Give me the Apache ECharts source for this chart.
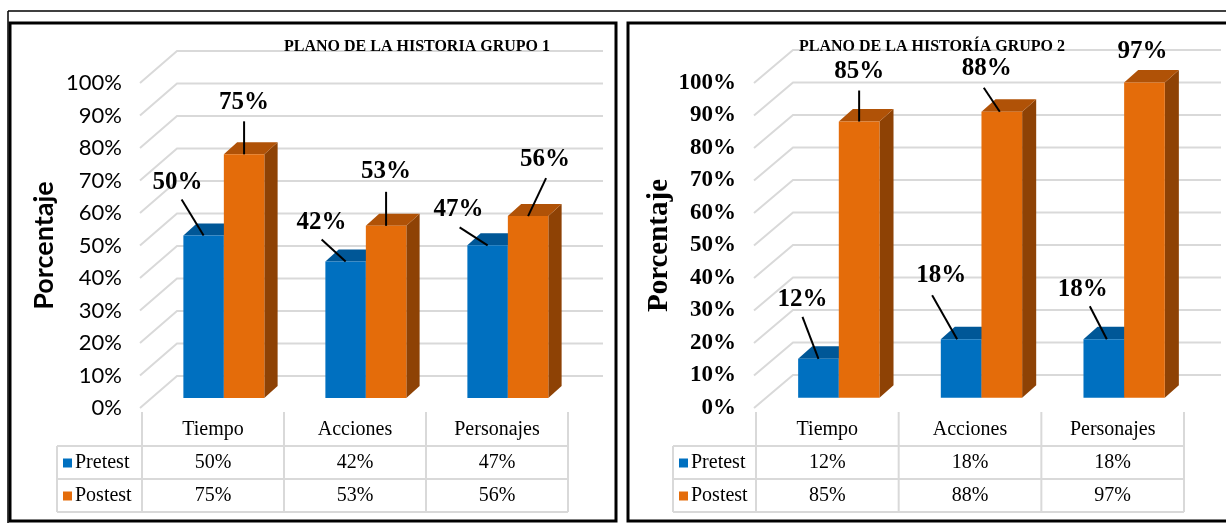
<!DOCTYPE html>
<html>
<head>
<meta charset="utf-8">
<script src="https://cdn.jsdelivr.net/npm/echarts@6/dist/echarts.min.js"></script>
<style>
  html, body { margin: 0; padding: 0; background: #fff; }
  #chart { width: 1226px; height: 523px; }
</style>
</head>
<body>
<div id="chart"></div>
<script>
const CATEGORIES = ['Tiempo', 'Acciones', 'Personajes'];
const SERIES_NAMES = ['Pretest', 'Postest'];
const G1_PRETEST = [50, 42, 47];
const G1_POSTEST = [75, 53, 56];
const G2_PRETEST = [12, 18, 18];
const G2_POSTEST = [85, 88, 97];
const Y_TICKS = [0, 10, 20, 30, 40, 50, 60, 70, 80, 90, 100];
const TITLES = ['PLANO DE LA HISTORIA GRUPO 1', 'PLANO DE LA HISTORÍA GRUPO 2'];

const COLORS = [
    {front: '#0070C0', top: '#005797', side: '#004A80'},   // Pretest
    {front: '#E46C0A', top: '#B05207', side: '#8E4205'}    // Postest
];
const GRID_LINE = '#D9D9D9';
const SERIF = '"Liberation Serif", "Times New Roman", serif';

const FRONT = 0.31;     // front face of bars, share of depth
const THICK = 0.38;     // bar depth, share of depth
const BAR_FRAC = 0.285; // bar width, share of category band

// layout of both panels (left, right)
const PANELS = [
    {
        left: 142, width: 426, depth: [35, -32],
        axisFont: 'Lato', axisWeight: 'normal', axisSize: 22,
        nameFont: 'Lato', nameSize: 27, nameGap: 84,
        titleX: 412, legendX: 57, box: [10, 23, 606, 498],
        // [label dx, label dy, line start dx, line start dy, line end dx] relative to bar top centre
        labels: [
            [[-26, -53, -22, -36, 0], [-24, -39, -24, -22, 0], [-29, -36, -28, -18, 0]],
            [[0, -52, 0, -33, 0], [0, -54, 0, -34, 0], [17, -57, 18, -38, 0]]
        ]
    },
    {
        left: 756, width: 428, depth: [37, -33],
        axisFont: SERIF, axisWeight: 'bold', axisSize: 23,
        nameFont: SERIF, nameSize: 29, nameGap: 82,
        titleX: 927, legendX: 673, box: [628, 23, 610, 498],
        labels: [
            [[-16, -59, -16, -42, 0], [-20, -64, -29, -44, -4], [-21, -50, -14, -33, 3]],
            [[0, -50, 0, -31, 0], [-15, -43, -18, -24, -2], [-2, -31, null, null, 0]]
        ]
    }
];
const GROUPS = [[G1_PRETEST, G1_POSTEST], [G2_PRETEST, G2_POSTEST]];

const GRID_TOP = 83;
const GRID_HEIGHT = 325;
const ROW_Y = [446, 479, 512];

function wallRender(panel) {
    return function (params, api) {
        const y = api.coord([0, api.value(1)])[1];
        const cs = params.coordSys;
        const [dx, dy] = panel.depth;
        return {
            type: 'polyline',
            shape: {points: [[cs.x - 2, y], [cs.x + dx, y + dy], [cs.x + cs.width + dx, y + dy]]},
            style: {stroke: GRID_LINE, lineWidth: 2, fill: null},
            silent: true
        };
    };
}

function barRender(panel, side) {
    const c = COLORS[side];
    return function (params, api) {
        const cat = api.value(0);
        const val = api.value(1);
        const base = api.coord([cat, 0]);
        const top = api.coord([cat, val]);
        const w = api.size([1, 0])[0] * BAR_FRAC;
        const [dx, dy] = panel.depth;
        const tx = dx * THICK, ty = dy * THICK;
        const x0 = base[0] + dx * FRONT + (side === 0 ? -w : 0);
        const x1 = x0 + w;
        const yb = base[1] + dy * FRONT;
        const yt = top[1] + dy * FRONT;
        const cx = (x0 + x1) / 2;
        const lab = panel.labels[side][cat];
        const children = [
            {type: 'polygon', shape: {points: [[x1, yt], [x1 + tx, yt + ty], [x1 + tx, yb + ty], [x1, yb]]},
                style: {fill: c.side}},
            {type: 'polygon', shape: {points: [[x0, yt], [x1, yt], [x1 + tx, yt + ty], [x0 + tx, yt + ty]]},
                style: {fill: c.top}},
            {type: 'rect', shape: {x: x0, y: yt, width: w, height: yb - yt}, style: {fill: c.front}},
            {type: 'text', x: cx + lab[0], y: yt + lab[1],
                style: {text: val + '%', fill: '#000', font: 'bold 25px ' + SERIF, align: 'center', verticalAlign: 'middle'}}
        ];
        if (lab[2] !== null) {
            children.push({type: 'line', shape: {x1: cx + lab[2], y1: yt + lab[3], x2: cx + lab[4], y2: yt},
                style: {stroke: '#000', lineWidth: 2}});
        }
        return {type: 'group', children: children};
    };
}

function tableGraphics(panel, values) {
    const band = panel.width / CATEGORIES.length;
    const right = panel.left + panel.width;
    const els = [];
    const line = (x1, y1, x2, y2) => els.push({type: 'line', shape: {x1, y1, x2, y2},
        style: {stroke: GRID_LINE, lineWidth: 2}, z: 1});
    for (let i = 0; i <= CATEGORIES.length; i++) {
        line(panel.left + i * band, 412, panel.left + i * band, ROW_Y[2]);
    }
    ROW_Y.forEach(y => line(panel.legendX, y, right, y));
    line(panel.legendX, ROW_Y[0], panel.legendX, ROW_Y[2]);
    SERIES_NAMES.forEach((name, s) => {
        const yc = (ROW_Y[s] + ROW_Y[s + 1]) / 2;
        els.push({type: 'rect', shape: {x: panel.legendX + 6, y: yc - 4, width: 9, height: 9},
            style: {fill: COLORS[s].front}, z: 2});
        els.push({type: 'text', x: panel.legendX + 18, y: yc,
            style: {text: name, font: '20px ' + SERIF, fill: '#000', verticalAlign: 'middle'}, z: 2});
        values[s].forEach((v, i) => {
            els.push({type: 'text', x: panel.left + (i + 0.5) * band, y: yc,
                style: {text: v + '%', font: '20px ' + SERIF, fill: '#000', align: 'center', verticalAlign: 'middle'}, z: 2});
        });
    });
    return els;
}

const chart = echarts.init(document.getElementById('chart'));

const graphics = [
    {type: 'line', shape: {x1: 8, y1: 11, x2: 1226, y2: 11}, style: {stroke: '#000', lineWidth: 1.5}},
    {type: 'line', shape: {x1: 8, y1: 11, x2: 8, y2: 523}, style: {stroke: '#000', lineWidth: 1.5}}
];
PANELS.forEach((p, k) => {
    graphics.push({type: 'rect', shape: {x: p.box[0], y: p.box[1], width: p.box[2], height: p.box[3]},
        style: {fill: null, stroke: '#000', lineWidth: 3}});
    graphics.push(...tableGraphics(p, GROUPS[k]));
});

const series = [];
PANELS.forEach((p, k) => {
    series.push({
        type: 'custom', xAxisIndex: k, yAxisIndex: k, z: 1,
        renderItem: wallRender(p),
        data: Y_TICKS.map(v => [0, v])
    });
    GROUPS[k].forEach((vals, s) => {
        series.push({
            type: 'custom', name: SERIES_NAMES[s], xAxisIndex: k, yAxisIndex: k, z: 2 + s,
            renderItem: barRender(p, s),
            data: vals.map((v, i) => [i, v])
        });
    });
});

chart.setOption({
    animation: false,
    title: PANELS.map((p, k) => ({
        text: TITLES[k], left: p.titleX, top: 34, textAlign: 'center',
        textStyle: {fontFamily: SERIF, fontWeight: 'bold', fontSize: 16, color: '#000'}
    })),
    grid: PANELS.map(p => ({left: p.left, width: p.width, top: GRID_TOP, height: GRID_HEIGHT})),
    xAxis: PANELS.map((p, k) => ({
        type: 'category', gridIndex: k, data: CATEGORIES,
        axisLine: {show: false}, axisTick: {show: false},
        axisLabel: {margin: 12, fontFamily: SERIF, fontSize: 20, color: '#000'}
    })),
    yAxis: PANELS.map((p, k) => ({
        type: 'value', gridIndex: k, min: 0, max: 100, interval: 10,
        axisLine: {show: false}, axisTick: {show: false}, splitLine: {show: false},
        axisLabel: {formatter: '{value}%', margin: 20, fontFamily: p.axisFont, fontWeight: p.axisWeight,
            fontSize: p.axisSize, color: '#000'},
        name: 'Porcentaje', nameLocation: 'middle', nameGap: p.nameGap, nameRotate: 90,
        nameTextStyle: {fontFamily: p.nameFont, fontWeight: 'bold', fontSize: p.nameSize, color: '#000'}
    })),
    graphic: graphics,
    series: series
});
</script>
</body>
</html>
